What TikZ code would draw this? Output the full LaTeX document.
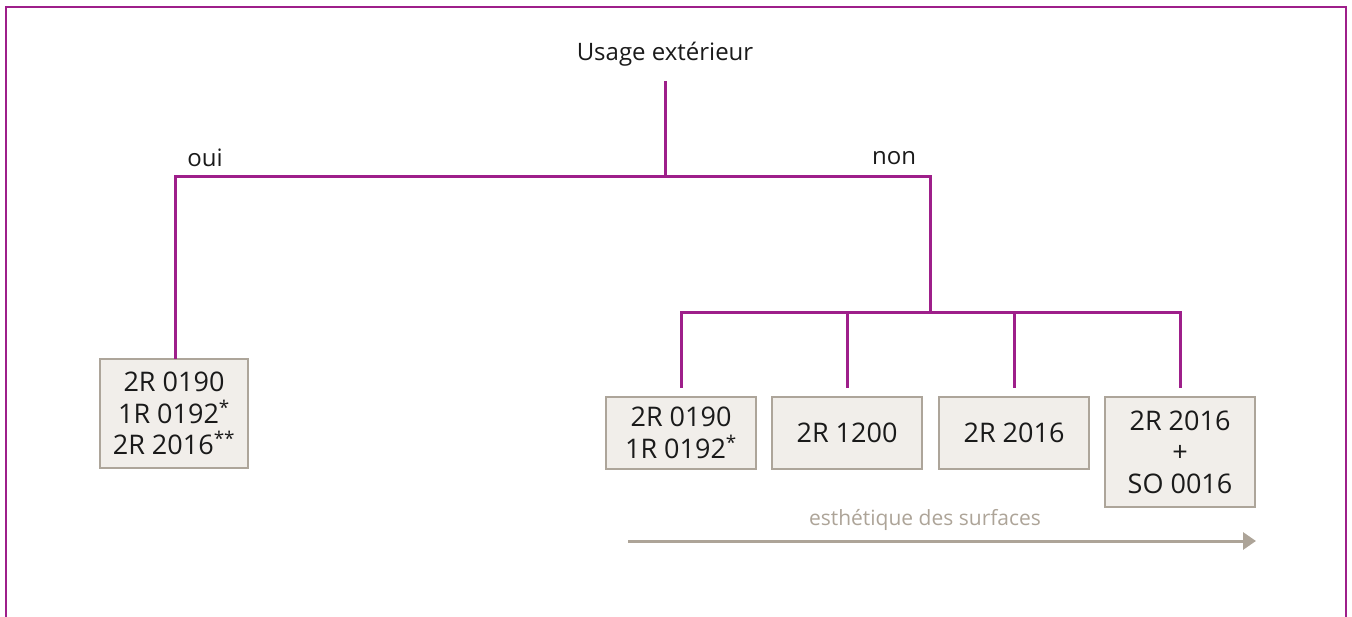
\documentclass[tikz,border=0pt]{standalone}
\usepackage{fontspec}
\setmainfont{Open Sans}
\usetikzlibrary{arrows.meta}
\definecolor{mag}{HTML}{9E1F8A}
\definecolor{boxfill}{HTML}{F1EEEA}
\definecolor{boxline}{HTML}{ADA59A}
\definecolor{arrowgrey}{HTML}{ADA498}
\definecolor{txt}{HTML}{1A1A1A}
\tikzset{
  conn/.style={draw=mag, line width=3pt},
  framel/.style={draw=mag, line width=1.5pt},
  prod/.style={draw=boxline, fill=boxfill, line width=2.5pt, text=txt, align=center,
    inner sep=0pt, minimum width=150pt, font=\fontsize{27}{31.5}\selectfont},
  lbl/.style={text=txt, inner sep=0pt, font=\fontsize{24}{29}\selectfont},
  greylbl/.style={text=arrowgrey, inner sep=0pt, font=\fontsize{21}{25}\selectfont}
}
\begin{document}
\begin{tikzpicture}[x=1pt,y=-1pt]
\useasboundingbox (0,0) rectangle (1352,617);
\draw[framel] (6,617) -- (6,7) -- (1346,7) -- (1346,617);

\node[lbl] (root) at (665,54) {Usage extérieur};
\node[lbl] (oui) at (205,158) {oui};
\node[lbl] (non) at (894,158) {non};

\node[prod, minimum width=148pt, minimum height=109pt] (bl) at (174,413.5) {2R 0190\\1R 0192\textsuperscript{*}\\2R 2016\textsuperscript{**}};
\node[prod, minimum height=72pt] (b1) at (681,433) {2R 0190\\1R 0192\textsuperscript{*}};
\node[prod, minimum height=72pt] (b2) at (847,433) {2R 1200};
\node[prod, minimum height=72pt] (b3) at (1014,433) {2R 2016};
\node[prod, minimum height=110pt] (b4) at (1180,452) {2R 2016\\+\\SO 0016};

\coordinate (rs) at (665,81);
\coordinate (j) at (665,177);
\coordinate (lc) at (175,177);
\coordinate (rc) at (930,177);
\coordinate (rj) at (930,313);
\coordinate (h1) at (681,313);
\coordinate (h4) at (1180,313);

\draw[conn] (rs) -- (j);
\draw[conn, line cap=rect] (bl.north -| lc) -- (lc) -- (rc) -- (rj);
\draw[conn] ([yshift=8pt]b1.north) -- (h1) -- (h4) -- ([yshift=8pt]b4.north);
\draw[conn] ([yshift=8pt]b2.north) -- (b2.north |- h1);
\draw[conn] ([yshift=8pt]b3.north) -- (b3.north |- h1);

\coordinate (as) at (628,541);
\coordinate (ae) at (1256,541);
\draw[draw=arrowgrey, line width=3pt, -{Triangle[length=13pt,width=17pt]}] (as) -- (ae);
\node[greylbl] (esth) at (925,520) {esthétique des surfaces};
\end{tikzpicture}
\end{document}
